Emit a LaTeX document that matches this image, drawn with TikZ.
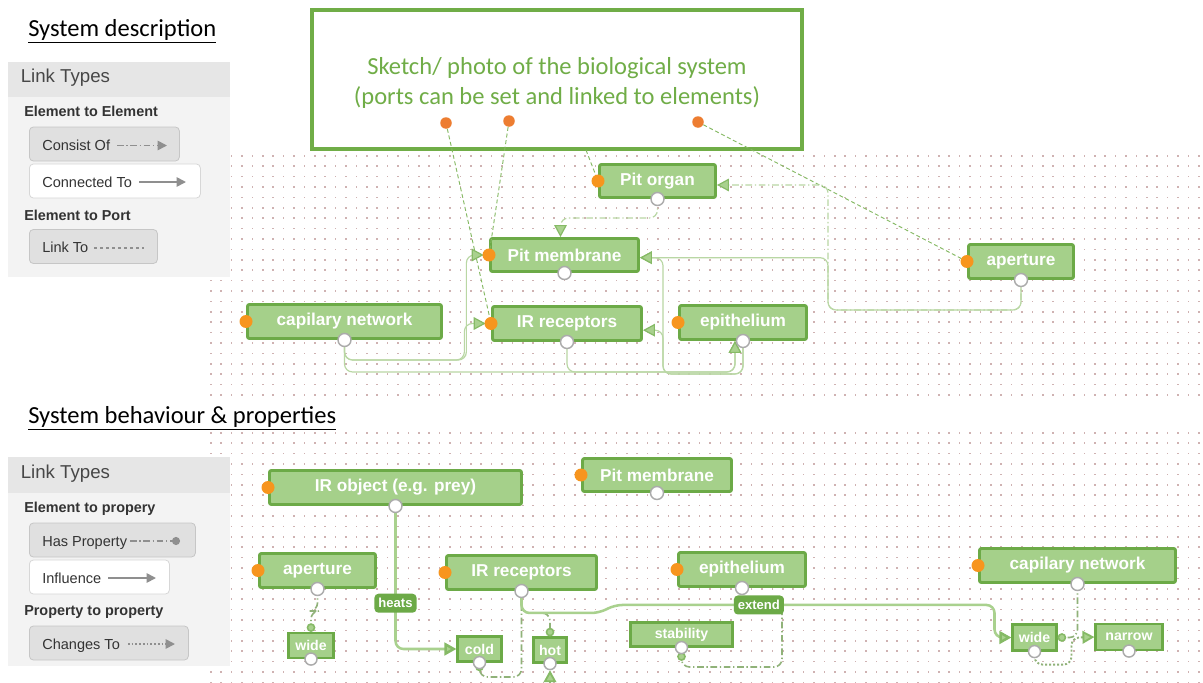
\documentclass[tikz,border=0pt]{standalone}
\usepackage{fontspec}
\setmainfont{Liberation Sans}
\newfontfamily\calibri{Carlito}
\usepackage{tikz}
\usetikzlibrary{arrows.meta}

\definecolor{elemfill}{HTML}{A5D08A}
\definecolor{elemline}{HTML}{6CAA47}
\definecolor{sketchgreen}{HTML}{70AD47}
\definecolor{sketchport}{HTML}{ED7D31}
\definecolor{elemport}{HTML}{F7951E}
\definecolor{wirecol}{HTML}{B9D7A4}
\definecolor{tipfill}{HTML}{A9D18E}
\definecolor{tipline}{HTML}{86BA66}
\definecolor{griddot}{HTML}{CFB2B2}
\definecolor{panelbg}{HTML}{F3F3F3}
\definecolor{panelhead}{HTML}{E6E6E6}
\definecolor{btngray}{HTML}{E0E0E0}
\definecolor{btnline}{HTML}{C6C6C6}
\definecolor{legendink}{HTML}{333333}
\definecolor{sampleink}{HTML}{8F8F8F}
\definecolor{outletline}{HTML}{ABABAB}

\newcommand\pxu{0.75pt}

\begin{document}
\begin{tikzpicture}[x=\pxu,y=-\pxu,
  elem/.style n args={2}{draw=elemline,fill=elemfill,line width=2.2pt,rounded corners=1.5pt,minimum width=#1*\pxu,minimum height=#2*\pxu,inner sep=0pt,text=white,font=\bfseries\fontsize{12.9}{15}\selectfont},
  prop/.style n args={2}{draw=elemline,fill=elemfill,line width=1.6pt,minimum width=#1*\pxu,minimum height=#2*\pxu,inner sep=0pt,text=white,font=\bfseries\fontsize{10.6}{13}\selectfont},
  lbl/.style={fill=elemline,rounded corners=3pt,text=white,inner xsep=3pt,inner ysep=0pt,minimum height=19*\pxu,font=\bfseries\fontsize{9.8}{12}\selectfont},
  sport/.style={circle,fill=sketchport,inner sep=0pt,minimum size=11.5*\pxu},
  title/.style={anchor=base west,inner sep=0pt,font=\calibri\fontsize{18.4}{22}\selectfont},
  legtext/.style={anchor=base west,inner sep=0pt,text=legendink,font=\fontsize{10.9}{13}\selectfont},
  legbold/.style={legtext,font=\bfseries\fontsize{10.8}{13}\selectfont},
  leghead/.style={legtext,text=legendink!90,font=\fontsize{14}{16}\selectfont},
  btn/.style={draw=btnline,fill=btngray,rounded corners=3pt,line width=0.6pt,minimum height=34*\pxu,minimum width=#1*\pxu},
  btnwhite/.style={btn=#1,fill=white,draw=btnline!70},
  sample/.style={draw=sampleink,line width=1.3pt},
  dashdot/.style={dash pattern=on 5pt off 2pt on 1pt off 2pt},
  tri/.style={-{Triangle[length=9pt,width=9.5pt,fill=tipfill,color=tipline]}},
  dot/.style={-{Circle[length=6.5pt,fill=tipfill,color=tipline]}},
  conn/.style={draw=wirecol,line width=0.9pt,rounded corners=6pt,tri},
  consist/.style={conn,dashdot},
  portlink/.style={draw=sketchgreen!85,line width=0.7pt,dash pattern=on 3pt off 2pt},
  influ/.style={draw=tipfill,line width=1.9pt,rounded corners=6pt,-{Triangle[length=9pt,width=9.5pt,fill=tipfill,color=tipline]}},
  hasprop/.style={draw=tipfill!85!black,line width=1.2pt,dashdot,rounded corners=6pt,dot},
  changes/.style={draw=tipfill!85!black,line width=1.4pt,dash pattern=on 1.5pt off 1.5pt,rounded corners=6pt,tri},
  outlet/.style={fill=white,draw=outletline,line width=1.1pt}]

\useasboundingbox (0,0) rectangle (1203,682);
\fill[white] (0,0) rectangle (1203,682);

\foreach \gx in {0,...,95} {
  \foreach \gy in {0,...,23} {\fill[griddot] (210+\gx*10.4,155+\gy*10.4) rectangle ++(1.6,1.6);}
  \foreach \gy in {0,...,24} {\fill[griddot] (210+\gx*10.4,432+\gy*10.4) rectangle ++(1.6,1.6);}
}

\node[title] (title1) at (28,36) {\underline{System description}};
\node[title] (title2) at (28,423) {\underline{System behaviour \& properties}};

\fill[panelbg] (8,62) rectangle (230,277);
\fill[panelhead] (8,62) rectangle (230,97);
\node[leghead] (lt1) at (20.5,82) {Link Types};
\node[legbold] (ee) at (24,116.5) {Element to Element};
\node[btn=150,anchor=west] (bconsist) at (29,144) {};
\node[legtext] (tconsist) at (42,150) {Consist Of};
\draw[sample,dashdot,-{Triangle[length=7pt,width=7pt]}] (117,145.5) -- (167,145.5);
\node[btnwhite=171,anchor=west] (bconnected) at (29,181) {};
\node[legtext] (tconnected) at (42,187) {Connected To};
\draw[sample,-{Triangle[length=7pt,width=7pt]}] (139,182) -- (186,182);
\node[legbold] (ep) at (24,220) {Element to Port};
\node[btn=128,anchor=west] (blink) at (29,246.5) {};
\node[legtext] (tlink) at (42,252.5) {Link To};
\draw[sample,dash pattern=on 2.5pt off 2pt] (94,248) -- (144,248);

\fill[panelbg] (8,457) rectangle (230,666);
\fill[panelhead] (8,457) rectangle (230,493);
\node[leghead] (lt2) at (20.5,478) {Link Types};
\node[legbold] (epr) at (24,512.5) {Element to propery};
\node[btn=166,anchor=west] (bhas) at (29,540) {};
\node[legtext] (thas) at (42,546) {Has Property};
\draw[sample,dashdot,-{Circle[length=6pt]}] (130,541) -- (180,541);
\node[btnwhite=140,anchor=west] (binflu) at (29,577) {};
\node[legtext] (tinflu) at (42,583) {Influence};
\draw[sample,-{Triangle[length=7pt,width=7pt]}] (108,578) -- (156,578);
\node[legbold] (ppr) at (24,615.5) {Property to property};
\node[btn=159,anchor=west] (bchanges) at (29,643) {};
\node[legtext] (tchanges) at (42,649) {Changes To};
\draw[sample,dash pattern=on 1.3pt off 1.5pt,-{Triangle[length=7pt,width=7pt]}] (128,644) -- (175,644);

\node[draw=sketchgreen,line width=3pt,fill=white,minimum width=490*\pxu,minimum height=139*\pxu] (sketch) at (557,79) {};
\node[align=center,text=sketchgreen,font=\calibri\fontsize{18.4}{22.5}\selectfont] (sketchtext) at (557,83) {Sketch/ photo of the biological system\\(ports can be set and linked to elements)};
\node[sport] (sp1) at (446,123) {};
\node[sport] (sp2) at (509,121) {};
\node[sport] (sp3) at (698,122) {};
\coordinate (sp4) at (586,150);

\node[elem={116}{33}] (pitorgan) at (657.5,181) {Pit organ};
\node[elem={148}{33}] (pitmem) at (564.5,255) {Pit membrane};
\node[elem={149}{34}] (irrec) at (567,323.5) {IR receptors};
\node[elem={127}{34}] (epith) at (743,322.5) {epithelium};
\node[elem={194}{34}] (capnet) at (344.5,321.5) {capilary network};
\node[elem={105}{34}] (aperture) at (1021,261.5) {aperture};

\node[elem={252}{34}] (irobj) at (395.5,487.5) {IR object (e.g. prey)};
\node[elem={149}{33}] (pitmem2) at (657,475) {Pit membrane};
\node[elem={116}{34}] (aper2) at (317.5,570.5) {aperture};
\node[elem={150}{34}] (irrec2) at (521.5,572.5) {IR receptors};
\node[elem={127}{34}] (epith2) at (742,569.5) {epithelium};
\node[elem={196}{34}] (capnet2) at (1077.5,565.5) {capilary network};

\node[prop={45}{25}] (wideA) at (311,645.5) {wide};
\node[prop={44}{25}] (cold) at (479.5,649) {cold};
\node[prop={33}{25}] (hot) at (550,650) {hot};
\node[prop={102}{24}] (stability) at (681.5,634.5) {stability};
\node[prop={44}{26}] (wideB) at (1034.5,637.5) {wide};
\node[prop={67}{26}] (narrow) at (1129,637) {narrow};

\draw[portlink] (sp1) -- (irrec.west);
\draw[portlink] (sp2) -- (pitmem.west);
\draw[portlink] (sp3) -- (aperture.west);
\draw[portlink] (sp4) -- (pitorgan.west);

\draw[consist] (pitorgan.south) -- ++(0,19) -| ([xshift=-3pt]pitmem.north);
\draw[consist] (aperture.south) -- ++(0,30) -- ++(-193,0) |- ([yshift=-3pt]pitorgan.east);
\draw[conn] (aperture.south) -- ++(0,30) -- ++(-193,0) |- ([yshift=-2pt]pitmem.east);
\draw[conn] (epith.south) -- ++(0,33) -- ++(-80,0) |- ([yshift=-5pt]irrec.east);
\draw[conn] (epith.south) -- ++(0,33) -- ++(-80,0) |- ([yshift=-2pt]pitmem.east);
\draw[conn] (capnet.south) -- ++(0,32) -| ([xshift=-6pt]epith.south);
\draw[conn] (irrec.south) -- ++(0,30) -| ([xshift=-6pt]epith.south);
\draw[conn] (capnet.south) -- ++(0,20) -| ([xshift=-20pt]irrec.west) -- ([xshift=-4pt]irrec.west);
\draw[conn] (capnet.south) -- ++(0,20) -| ([xshift=-17pt]pitmem.west) -- ([xshift=-4pt]pitmem.west);

\draw[hasprop] (epith2.south) -- ++(0,14) -- ++(40,0) -- ++(0,65) -| ([yshift=-3.5pt]stability.south);
\draw[hasprop] (aper2.south) -- ++(0,22) -| (wideA.north);
\draw[hasprop] (irrec2.south) -- ++(0,86) -| (cold.south);
\draw[hasprop] (irrec2.south) -- ++(0,22) -| (hot.north);
\draw[hasprop] (capnet2.south) |- (wideB.east);
\coordinate (belowhot) at (550,690);
\draw[changes] (belowhot) -- ([yshift=-5pt]hot.south);
\draw[changes] (wideB.south) -- ++(0,13) -| ++(37,-27) -- (narrow.west);
\draw[influ] (irobj.south) |- node[lbl,pos=0.34] (heats) {heats} (cold.west);
\draw[influ] (irrec2.south) -- ++(0,22) -- ++(78,0) -- ++(15,-8) -- node[lbl,pos=0.38] (extend) {extend} ++(380,0) |- (wideB.west);

\foreach \n in {pitorgan,pitmem,irrec,epith,capnet,aperture,irobj,pitmem2,aper2,irrec2,epith2,capnet2} {
  \fill[elemport] (\n.west) circle[radius=6.5];
  \draw[outlet] (\n.south) circle[radius=6.5];
}
\foreach \n in {wideA,cold,hot,stability,wideB,narrow}
  \draw[outlet] (\n.south) circle[radius=6];
\end{tikzpicture}
\end{document}
